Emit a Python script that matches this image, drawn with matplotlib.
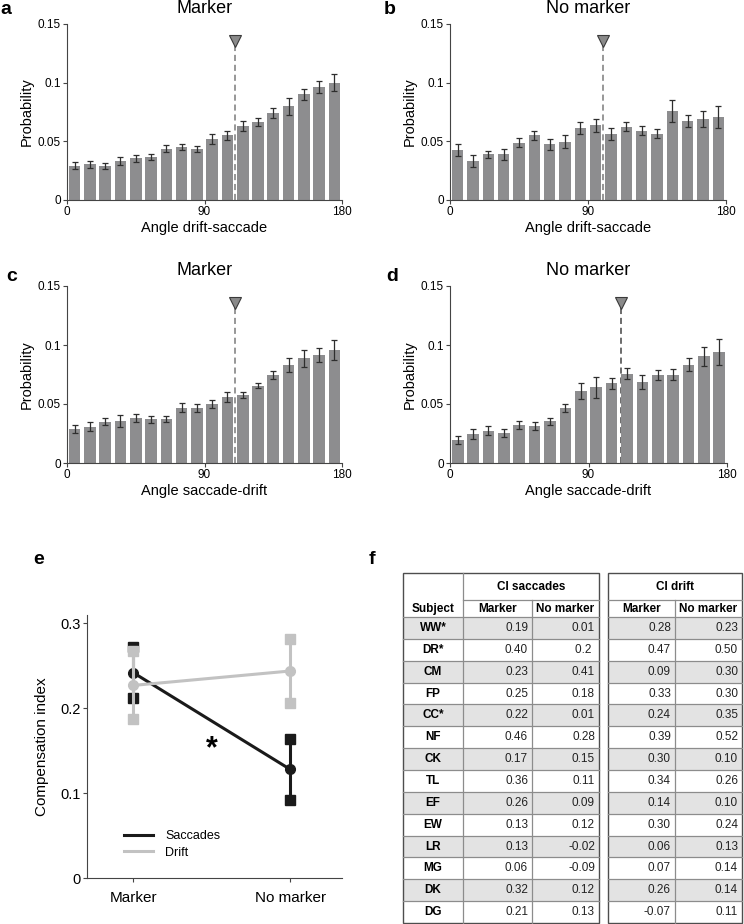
import numpy as np
import matplotlib.pyplot as plt
from matplotlib.patches import Rectangle

plt.rcParams['font.family'] = ['Liberation Sans', 'DejaVu Sans']

# ---- data ----
bin_centers = np.arange(5, 180, 10)

prob_a = [0.0293, 0.0305, 0.0290, 0.0333, 0.0356, 0.0370, 0.0435, 0.0450, 0.0435,
          0.0520, 0.0550, 0.0630, 0.0666, 0.0743, 0.0797, 0.0900, 0.0960, 0.1000]
err_a = [0.003, 0.003, 0.0025, 0.0035, 0.003, 0.0025, 0.003, 0.0025, 0.0025,
         0.004, 0.004, 0.004, 0.0035, 0.004, 0.007, 0.0045, 0.005, 0.007]

prob_b = [0.0427, 0.0334, 0.0390, 0.0388, 0.0490, 0.0552, 0.0475, 0.0498, 0.0611,
          0.0637, 0.0560, 0.0625, 0.0592, 0.0566, 0.0756, 0.0674, 0.0690, 0.0710]
err_b = [0.005, 0.005, 0.003, 0.0045, 0.004, 0.004, 0.0045, 0.0054, 0.0052,
         0.0055, 0.005, 0.004, 0.0042, 0.004, 0.0095, 0.005, 0.007, 0.0095]

prob_c = [0.0292, 0.0308, 0.0348, 0.0357, 0.0379, 0.0371, 0.0371, 0.0470, 0.0467,
          0.0498, 0.0560, 0.0575, 0.0654, 0.0742, 0.0829, 0.0886, 0.0914, 0.0957]
err_c = [0.0034, 0.004, 0.003, 0.005, 0.0034, 0.003, 0.0027, 0.0038, 0.0037,
         0.0035, 0.004, 0.0025, 0.002, 0.0034, 0.006, 0.007, 0.0058, 0.0082]

prob_d = [0.0195, 0.0246, 0.0275, 0.0255, 0.0323, 0.0311, 0.0354, 0.0467, 0.0611,
          0.0640, 0.0674, 0.0758, 0.0685, 0.0747, 0.0747, 0.0832, 0.0906, 0.0940]
err_d = [0.0034, 0.004, 0.0038, 0.0035, 0.0034, 0.0035, 0.0031, 0.0037, 0.0066,
         0.009, 0.0048, 0.0047, 0.0062, 0.0041, 0.0047, 0.0055, 0.008, 0.011]

mean_angle = [110, 100, 110, 111]
titles = ['Marker', 'No marker', 'Marker', 'No marker']
xlabels = ['Angle drift-saccade', 'Angle drift-saccade',
           'Angle saccade-drift', 'Angle saccade-drift']
letters = ['a', 'b', 'c', 'd']

conditions = ['Marker', 'No marker']
ci_saccades = [0.242, 0.128]
sem_saccades = [0.030, 0.036]
ci_drift = [0.227, 0.244]
sem_drift = [0.040, 0.038]

subjects = ['WW*', 'DR*', 'CM', 'FP', 'CC*', 'NF', 'CK', 'TL', 'EF', 'EW',
            'LR', 'MG', 'DK', 'DG']
sac_marker = ['0.19', '0.40', '0.23', '0.25', '0.22', '0.46', '0.17', '0.36',
              '0.26', '0.13', '0.13', '0.06', '0.32', '0.21']
sac_nomarker = ['0.01', '0.2 ', '0.41', '0.18', '0.01', '0.28', '0.15', '0.11',
                '0.09', '0.12', '-0.02', '-0.09', '0.12', '0.13']
drift_marker = ['0.28', '0.47', '0.09', '0.33', '0.24', '0.39', '0.30', '0.34',
                '0.14', '0.30', '0.06', '0.07', '0.26', '-0.07']
drift_nomarker = ['0.23', '0.50', '0.30', '0.30', '0.35', '0.52', '0.10', '0.26',
                  '0.10', '0.24', '0.13', '0.14', '0.14', '0.11']

# ---- figure ----
W, H = 744, 924
fig = plt.figure(figsize=(W / 100, H / 100), dpi=100)


def px_axes(l, t, r, b):
    return fig.add_axes([l / W, 1 - b / H, (r - l) / W, (b - t) / H])


def style_axes(ax, lab=8.5):
    for s in ['top', 'right']:
        ax.spines[s].set_visible(False)
    for s in ['left', 'bottom']:
        ax.spines[s].set_color('#444444')
        ax.spines[s].set_linewidth(0.8)
    ax.tick_params(direction='out', length=3, width=0.8, color='#444444',
                   labelsize=lab, pad=1.5)


bar_gray = '#8d8d8f'
boxes = [(67, 24, 342, 200), (450, 24, 726, 200),
         (67, 286, 342, 463), (450, 286, 727, 463)]
probs = [prob_a, prob_b, prob_c, prob_d]
errs = [err_a, err_b, err_c, err_d]
line_cols = ['#7a7a7a', '#7a7a7a', '#7a7a7a', '#444444']

for i in range(4):
    ax = px_axes(*boxes[i])
    ax.axvline(mean_angle[i], ymin=0, ymax=0.133 / 0.15, color=line_cols[i],
               ls=(0, (4, 2.5)), lw=1.1, zorder=1)
    ax.bar(bin_centers, probs[i], width=7.6, color=bar_gray, zorder=2)
    ax.errorbar(bin_centers, probs[i], yerr=errs[i], fmt='none',
                ecolor='#2e2e2e', elinewidth=0.9, capsize=2.5, capthick=0.9,
                zorder=3)
    ax.plot([mean_angle[i]], [0.1355], marker='v', ms=8, color='#8a8a8a',
            mec='#3a3a3a', mew=0.8, clip_on=False, zorder=4)
    ax.set_xlim(0, 180)
    ax.set_ylim(0, 0.15)
    ax.set_xticks([0, 90, 180])
    ax.set_yticks([0, 0.05, 0.1, 0.15])
    ax.set_yticklabels(['0', '0.05', '0.1', '0.15'])
    style_axes(ax)
    ax.set_title(titles[i], fontsize=13, pad=8)
    ax.set_xlabel(xlabels[i], fontsize=10.5, labelpad=2)
    ax.set_ylabel('Probability', fontsize=10.5, labelpad=3)

# panel letters
for txt, x, y in [('a', 0, 9), ('b', 384, 9), ('c', 6, 277), ('d', 386, 277),
                  ('e', 33, 560), ('f', 369, 560)]:
    fig.text(x / W, 1 - y / H, txt, fontsize=14, fontweight='bold',
             va='center', ha='left')

# ---- panel e ----
ax = px_axes(87, 615, 342, 878)
xpos = np.array([1, 2])
for mean, sem, col, lab in [(ci_saccades, sem_saccades, '#1a1a1a', 'Saccades'),
                            (ci_drift, sem_drift, '#c2c2c2', 'Drift')]:
    mean = np.array(mean)
    sem = np.array(sem)
    ax.vlines(xpos, mean - sem, mean + sem, color=col, lw=2.2)
    ax.plot(xpos, mean - sem, 's', color=col, ms=7.5, ls='none')
    ax.plot(xpos, mean + sem, 's', color=col, ms=7.5, ls='none')
    ax.plot(xpos, mean, '-o', color=col, lw=2.2, ms=7, label=lab)
ax.text(1.5, 0.152, '*', fontsize=22, fontweight='bold', ha='center',
        va='center')
ax.set_xlim(0.705, 2.33)
ax.set_ylim(0, 0.31)
ax.set_xticks(xpos)
ax.set_xticklabels(conditions)
ax.set_yticks([0, 0.1, 0.2, 0.3])
ax.set_yticklabels(['0', '0.1', '0.2', '0.3'])
style_axes(ax, lab=10.5)
ax.tick_params(axis='x', labelsize=11, pad=6)
ax.set_ylabel('Compensation index', fontsize=11, labelpad=8)
leg = ax.legend(loc='lower left', bbox_to_anchor=(0.1, 0.03), frameon=False,
                fontsize=9, handlelength=2.3, handletextpad=1.0,
                labelspacing=0.35)
for h in leg.legend_handles:
    h.set_marker('')

# ---- panel f (table) ----
tx = px_axes(400, 570, 744, 926)
tx.set_xlim(400, 744)
tx.set_ylim(926, 570)
tx.axis('off')

col1 = [403, 463, 532, 599]
col2 = [608, 675, 742]
top, mid, head_bot = 573, 600, 617
row_h = 21.86
n = len(subjects)
row_edges = head_bot + row_h * np.arange(n + 1)
inner = '#8c8c8c'
outer = '#4d4d4d'
fs = 8.5

for r in range(n):
    y0 = row_edges[r]
    if r % 2 == 0:
        tx.add_patch(Rectangle((col1[0], y0), col1[-1] - col1[0], row_h,
                               fc='#e3e3e3', ec='none', zorder=0))
        tx.add_patch(Rectangle((col2[0], y0), col2[-1] - col2[0], row_h,
                               fc='#e3e3e3', ec='none', zorder=0))
    yc = y0 + row_h / 2
    tx.text((col1[0] + col1[1]) / 2, yc, subjects[r], ha='center',
            va='center', fontsize=fs, fontweight='bold')
    for val, right in [(sac_marker[r], col1[2]), (sac_nomarker[r], col1[3]),
                       (drift_marker[r], col2[1]), (drift_nomarker[r], col2[2])]:
        tx.text(right - 4, yc, val, ha='right', va='center', fontsize=fs,
                color='#222222')

# horizontal lines
for cols in (col1, col2):
    x_first = cols[0]
    x_last = cols[-1]
    for y in row_edges[:-1]:
        tx.plot([x_first, x_last], [y, y], color=inner, lw=0.9)
    tx.plot([cols[-3] if cols is col1 else cols[0], x_last], [mid, mid],
            color=inner, lw=0.9)
    # vertical inner lines
    for x in cols[1:-1]:
        y_start = top if (cols is col1 and x == col1[1]) else mid
        tx.plot([x, x], [y_start, row_edges[-1]], color=inner, lw=0.9)
    tx.add_patch(Rectangle((x_first, top), x_last - x_first,
                           row_edges[-1] - top, fc='none', ec=outer, lw=1.0))

tx.text((col1[1] + col1[3]) / 2, (top + mid) / 2, 'CI saccades', ha='center',
        va='center', fontsize=fs, fontweight='bold')
tx.text((col2[0] + col2[2]) / 2, (top + mid) / 2, 'CI drift', ha='center',
        va='center', fontsize=fs, fontweight='bold')
for label, x0, x1 in [('Subject', col1[0], col1[1]), ('Marker', col1[1], col1[2]),
                      ('No marker', col1[2], col1[3]), ('Marker', col2[0], col2[1]),
                      ('No marker', col2[1], col2[2])]:
    tx.text((x0 + x1) / 2, (mid + head_bot) / 2 + 0.5, label, ha='center',
            va='center', fontsize=fs, fontweight='bold')

fig.savefig('out.png', dpi=100)
